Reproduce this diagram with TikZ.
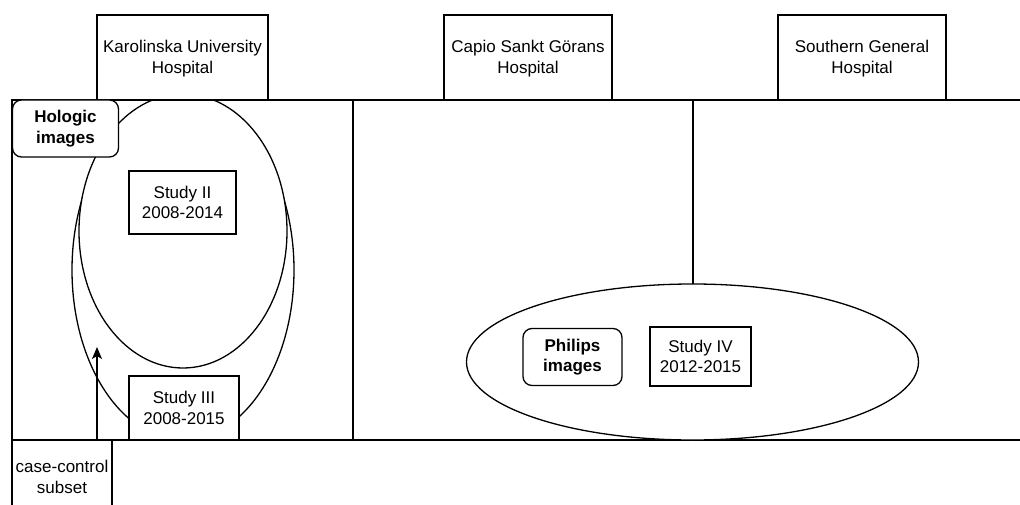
\documentclass[tikz,border=0pt]{standalone}
\usepackage{fontspec}
\setmainfont{Liberation Sans}
\usetikzlibrary{arrows.meta,shapes.geometric}
\begin{document}
\begin{tikzpicture}[x=1pt,y=-1pt, line width=1.3pt,
  font=\fontsize{17}{20.5}\selectfont,
  box/.style={draw, fill=white, align=center, inner sep=0pt},
  rbox/.style={box, rounded corners=9pt, font=\fontsize{17}{20.5}\selectfont\bfseries},
  ell/.style={draw, ellipse, inner sep=0pt}]
\useasboundingbox (0,0) rectangle (1020,505);
% frame
\draw (12,100) rectangle (1040,530);
\draw (12,440) -- (1040,440);
\draw (353,100) -- (353,440);
\draw (693,100) -- (693,440);
% ellipses
\node[ell, minimum width=222pt, minimum height=340pt] (outer) at (183,270) {};
\node[ell, fill=white, minimum width=208pt, minimum height=274pt] (inner) at (183,231) {};
\node[ell, fill=white, minimum width=452pt, minimum height=156pt] (phell) at (692.5,362) {};
% top boxes
\node[box, minimum width=171pt, minimum height=85pt] (kar) at (182.5,57.5) {\strut Karolinska University\\Hospital};
\node[box, minimum width=168pt, minimum height=85pt] (capio) at (528,57.5) {\strut Capio Sankt Görans\\Hospital};
\node[box, minimum width=168pt, minimum height=85pt] (south) at (862,57.5) {\strut Southern General\\Hospital};
% inner boxes
\node[rbox, minimum width=106pt, minimum height=57pt] (holo) at (65.5,128.5) {Hologic\\images};
\node[box, minimum width=107pt, minimum height=63pt] (s2) at (182.5,202.5) {Study II\\2008-2014};
\node[box, minimum width=110pt, minimum height=64pt] (s3) at (184,408) {Study III\\2008-2015};
\node[rbox, minimum width=99pt, minimum height=57pt] (phil) at (572.5,357) {Philips\\images};
\node[box, minimum width=101pt, minimum height=59pt] (s4) at (700.5,356.5) {Study IV\\2012-2015};
\node[box, minimum width=100pt, minimum height=74pt] (cc) at (62,477) {case-control\\subset};
% arrow
\coordinate (abase) at (97,440);
\coordinate (atip) at (97,347);
\draw[-{Stealth[length=12pt,width=10pt,inset=3pt]}] (abase) -- (atip);
\end{tikzpicture}
\end{document}
